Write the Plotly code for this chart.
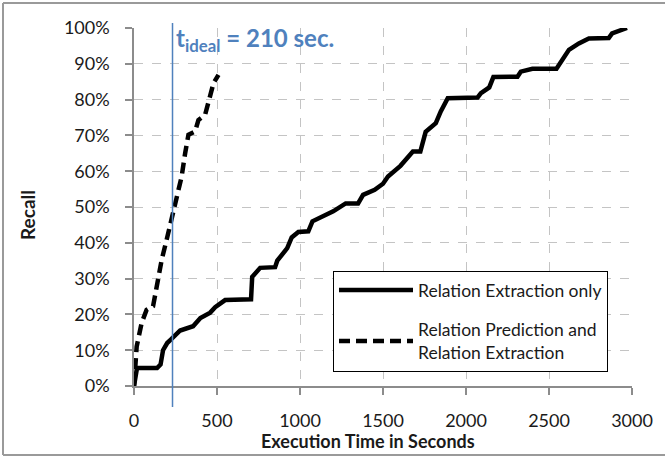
import plotly.graph_objects as go

# ---- data ----
re_only_time = [0, 10, 18, 139, 160, 175, 200, 223, 278, 356, 400, 459, 489, 549, 705, 712,
                760, 850, 863, 923, 950, 990, 1050, 1075, 1140, 1200, 1275, 1350, 1380, 1450,
                1500, 1530, 1605, 1680, 1725, 1757, 1818, 1848, 1890, 2070, 2090, 2140, 2165,
                2310, 2330, 2400, 2545, 2570, 2620, 2680, 2740, 2860, 2880, 2970]
re_only_recall = [0, 3, 5, 5, 6, 10, 12, 13, 15.5, 16.7, 19, 20.5, 22, 24, 24.2, 30.5,
                  33, 33.2, 35, 38.5, 41.5, 43, 43.2, 46, 47.4, 48.8, 51, 51, 53.4, 54.8,
                  56.5, 58.5, 61.5, 65.5, 65.5, 71, 73.4, 76.7, 80.4, 80.6, 81.8, 83.4, 86.3,
                  86.4, 87.8, 88.6, 88.6, 90.2, 93.9, 95.7, 97.1, 97.2, 98.5, 100]

rp_re_time = [0, 5, 16, 46, 76, 115, 137, 167, 197, 227, 257, 287, 308, 328, 368, 388, 428,
              459, 479, 509]
rp_re_recall = [0, 5, 11, 17.6, 21.3, 22.3, 27.8, 35.3, 40.9, 46.4, 52, 58.5, 65, 70.2, 71.1,
                74.3, 75.7, 80.8, 84.6, 86.9]

series_names = ["Relation Extraction only", "Relation Prediction and<br>Relation Extraction"]
t_ideal_line = 232
t_ideal_label = "t<sub>ideal</sub> = 210 sec."
x_ticks = [0, 500, 1000, 1500, 2000, 2500, 3000]
y_ticks = [0, 10, 20, 30, 40, 50, 60, 70, 80, 90, 100]
y_tick_text = ["0%", "10%", "20%", "30%", "40%", "50%", "60%", "70%", "80%", "90%", "100%"]
x_title = "Execution Time in Seconds"
y_title = "Recall"

FONT = "Lato"
W, H = 665, 456
L, R, T, B = 134, 33, 28, 70
pw, ph = W - L - R, H - T - B


def px_x(p):
    return (p - L) / pw


def px_y(p):
    return (H - B - p) / ph


fig = go.Figure()
fig.add_trace(go.Scatter(x=re_only_time, y=re_only_recall, mode="lines",
                         name=series_names[0], legendgroup="a",
                         line=dict(color="black", width=4.5)))
fig.add_trace(go.Scatter(x=rp_re_time, y=rp_re_recall, mode="lines",
                         name=series_names[1], legendgroup="b",
                         line=dict(color="black", width=4.5, dash="11px,6px")))

# ideal time vertical line
fig.add_shape(type="line", xref="x", yref="paper", x0=t_ideal_line, x1=t_ideal_line,
              y0=px_y(407), y1=px_y(23), line=dict(color="#4F81BD", width=1.5))
fig.add_annotation(x=t_ideal_line, y=px_y(40), xref="x", yref="paper", xanchor="left",
                   yanchor="middle", xshift=1, text="<b>" + t_ideal_label + "</b>",
                   showarrow=False, font=dict(family=FONT, size=24, color="#4F81BD"))

# outer frame (top, left, bottom edges)
frame = dict(color="#9a9a9a", width=2)
fig.add_shape(type="line", xref="paper", yref="paper", x0=px_x(3), x1=px_x(665),
              y0=px_y(3), y1=px_y(3), line=frame, layer="below")
fig.add_shape(type="line", xref="paper", yref="paper", x0=px_x(3), x1=px_x(3),
              y0=px_y(3), y1=px_y(455), line=frame, layer="below")
fig.add_shape(type="line", xref="paper", yref="paper", x0=px_x(3), x1=px_x(665),
              y0=px_y(455), y1=px_y(455), line=frame, layer="below")

# axis titles
fig.add_annotation(x=px_x(368), y=px_y(441), xref="paper", yref="paper",
                   xanchor="center", yanchor="middle",
                   text="<b>" + x_title + "</b>", showarrow=False,
                   font=dict(family=FONT, size=18, color="#1a1a1a"))
fig.add_annotation(x=px_x(27), y=px_y(215), xref="paper", yref="paper",
                   xanchor="center", yanchor="middle",
                   text="<b>" + y_title + "</b>", showarrow=False, textangle=-90,
                   font=dict(family=FONT, size=19, color="#1a1a1a"))

axis_common = dict(showline=True, linecolor="#8c8c8c", linewidth=1.5,
                   ticks="outside", tickcolor="#8c8c8c", ticklen=7, tickwidth=1.5,
                   showgrid=True, gridcolor="#c4c4c4", griddash="dash", gridwidth=1,
                   zeroline=False, automargin=False,
                   tickfont=dict(family=FONT, size=18, color="#1a1a1a"))

fig.update_xaxes(range=[0, 3000], tickvals=x_ticks, ticklabelstandoff=11, **axis_common)
fig.update_yaxes(range=[0, 100], tickvals=y_ticks, ticktext=y_tick_text,
                 ticklabelstandoff=12, **axis_common)

fig.update_layout(
    width=W, height=H,
    margin=dict(l=L, r=R, t=T, b=B, autoexpand=False),
    paper_bgcolor="white", plot_bgcolor="white",
    showlegend=True,
    legend=dict(x=px_x(333), y=px_y(271), xanchor="left", yanchor="top",
                bgcolor="white", bordercolor="black", borderwidth=1,
                font=dict(family=FONT, size=17.5, color="#1a1a1a"),
                itemwidth=74, tracegroupgap=14),
)

fig.write_html("out.html", config={"displayModeBar": False},
               post_script="document.body.style.margin='0';document.body.style.padding='0';"
                           "document.body.style.overflow='hidden';")
